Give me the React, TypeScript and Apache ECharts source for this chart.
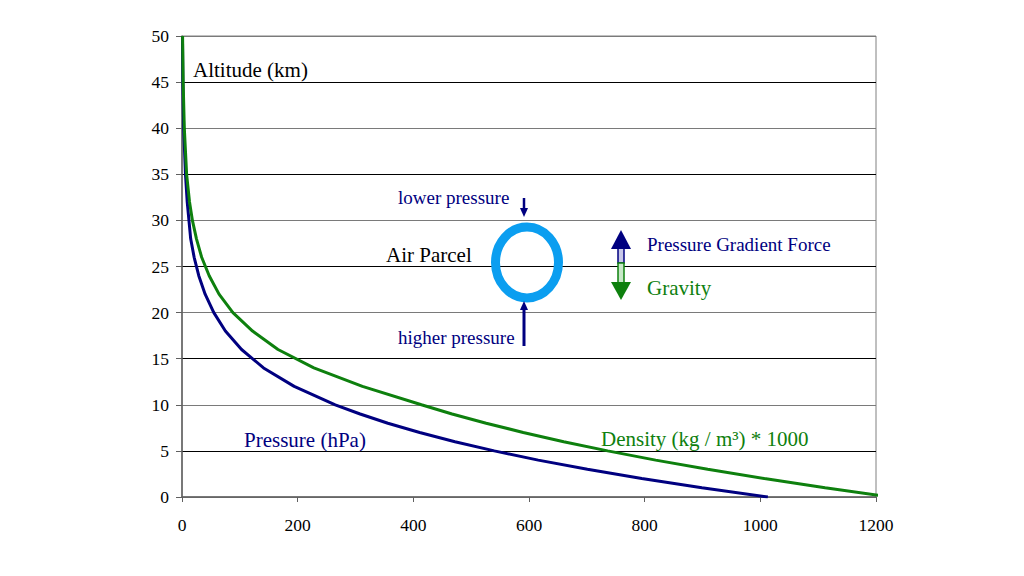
import React, { useEffect, useRef } from "react";
import * as echarts from "echarts";

const altitudes = [0, 1, 2, 3, 4, 5, 6, 7, 8, 9, 10, 12, 14, 16, 18, 20, 22, 24, 26, 28, 30, 32, 35, 40, 45, 50];
const pressure = [1013, 899, 795, 701, 616, 540, 472, 411, 356, 308, 265, 194, 141, 103, 75, 55, 40, 29, 21, 15, 12, 9, 6, 2.9, 1.5, 0.8];
const density = [1225, 1112, 1007, 909, 819, 736, 660, 590, 526, 467, 414, 312, 228, 166, 122, 88, 64, 47, 34, 25, 18, 13, 8, 4, 2, 1];
const xTicks = [0, 200, 400, 600, 800, 1000, 1200];
const yTicks = [0, 5, 10, 15, 20, 25, 30, 35, 40, 45, 50];

const FONT = "Liberation Serif";
const NAVY = "#000080";
const GREEN = "#0e800e";

export default function App() {
  const ref = useRef<HTMLDivElement>(null);
  useEffect(() => {
    if (!ref.current) return;
    const chart = echarts.init(ref.current, null, { renderer: "svg" });
    const txt = (text: string, x: number, y: number, size: number, color: string) => ({
      type: "text",
      x,
      y,
      z: 10,
      style: {
        text,
        fill: color,
        fontSize: size,
        fontFamily: FONT,
        verticalAlign: "middle",
        align: "left",
      },
    });
    chart.setOption({
      animation: false,
      backgroundColor: "#fff",
      textStyle: { fontFamily: FONT },
      grid: { left: 182, right: 148, top: 36, bottom: 79, show: true, borderColor: "#808080", borderWidth: 1 },
      xAxis: {
        type: "value",
        min: xTicks[0],
        max: xTicks[xTicks.length - 1],
        interval: 200,
        axisLine: { show: true, onZero: false, lineStyle: { color: "#606060", width: 1.5 } },
        axisTick: { show: true, inside: false, length: 5, lineStyle: { color: "#606060" } },
        axisLabel: { color: "#000", fontSize: 17.5, fontFamily: FONT, margin: 19, formatter: (v: number) => String(v) },
        splitLine: { show: false },
      },
      yAxis: {
        type: "value",
        min: yTicks[0],
        max: yTicks[yTicks.length - 1],
        interval: 5,
        axisLine: { show: true, onZero: false, lineStyle: { color: "#606060", width: 1.5 } },
        axisTick: { show: true, inside: false, length: 6, lineStyle: { color: "#606060" } },
        axisLabel: { color: "#000", fontSize: 17.5, fontFamily: FONT, margin: 13, formatter: (v: number) => String(v) },
        splitLine: { show: true, lineStyle: { color: ["#7a7a7a", "#000000"], width: 1.2 } },
      },
      series: [
        {
          name: "Pressure (hPa)",
          type: "line",
          data: pressure.map((p, i) => [p, altitudes[i]]),
          showSymbol: false,
          lineStyle: { color: NAVY, width: 3 },
          clip: true,
        },
        {
          name: "Density",
          type: "line",
          data: density.map((d, i) => [d, altitudes[i]]),
          showSymbol: false,
          lineStyle: { color: GREEN, width: 3 },
          clip: true,
        },
      ],
      graphic: [
        txt("Altitude (km)", 193, 70, 21, "#000"),
        txt("Air Parcel", 386, 255, 21, "#000"),
        txt("lower pressure", 398, 197, 19, NAVY),
        txt("higher pressure", 398, 337, 19, NAVY),
        txt("Pressure Gradient Force", 647, 244, 19, NAVY),
        txt("Gravity", 647, 288, 21, GREEN),
        txt("Pressure (hPa)", 244, 440, 21, NAVY),
        txt("Density (kg / m³) * 1000", 601, 439, 21, GREEN),
        {
          type: "ellipse",
          z: 10,
          shape: { cx: 527, cy: 262.5, rx: 31.5, ry: 35.5 },
          style: { fill: "none", stroke: "#0b9ef0", lineWidth: 9 },
        },
        { type: "line", z: 10, shape: { x1: 524, y1: 198, x2: 524, y2: 209 }, style: { stroke: NAVY, lineWidth: 2.5 } },
        { type: "polygon", z: 10, shape: { points: [[520, 208], [528, 208], [524, 217]] }, style: { fill: NAVY } },
        { type: "line", z: 10, shape: { x1: 524, y1: 309, x2: 524, y2: 346 }, style: { stroke: NAVY, lineWidth: 3 } },
        { type: "polygon", z: 10, shape: { points: [[520, 310], [528, 310], [524, 301]] }, style: { fill: NAVY } },
        { type: "rect", z: 10, shape: { x: 618, y: 248, width: 6, height: 15 }, style: { fill: "#c8c8e8", stroke: NAVY, lineWidth: 1.5 } },
        { type: "rect", z: 10, shape: { x: 618, y: 263, width: 6, height: 20 }, style: { fill: "#c8e8c8", stroke: GREEN, lineWidth: 1.5 } },
        { type: "polygon", z: 11, shape: { points: [[611, 249], [631, 249], [621, 230]] }, style: { fill: NAVY } },
        { type: "polygon", z: 11, shape: { points: [[611, 282], [631, 282], [621, 300]] }, style: { fill: GREEN } },
      ],
    });
    return () => chart.dispose();
  }, []);
  return <div ref={ref} style={{ position: "fixed", left: 0, top: 0, width: 1024, height: 576 }} />;
}
